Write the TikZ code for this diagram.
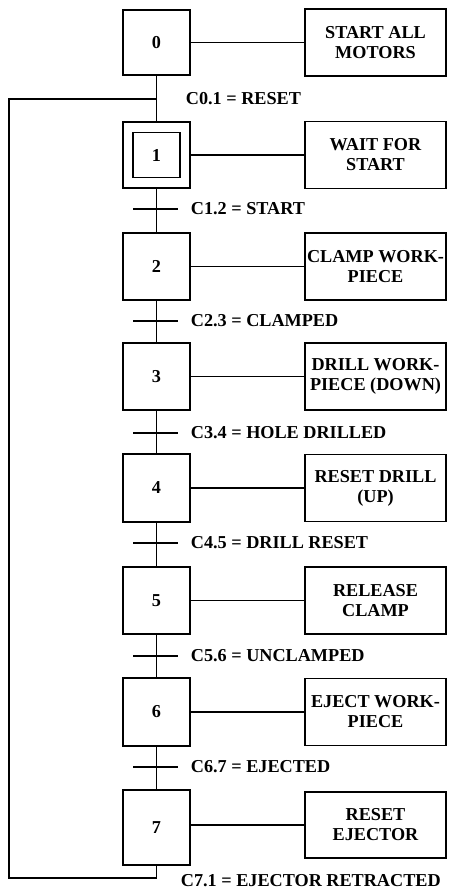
\documentclass[tikz,border=0pt]{standalone}
\usepackage{fontspec}
\setmainfont{Liberation Serif}
\begin{document}
\begin{tikzpicture}[x=1pt,y=-1pt,
  line width=1.8pt,
  every node/.style={font=\fontsize{18.2}{20}\selectfont\bfseries},
  stepbox/.style={draw, minimum width=67pt, minimum height=66pt, inner sep=0pt},
  actbox/.style={draw, minimum width=141pt, minimum height=67pt, inner sep=0pt, align=center},
  lbl/.style={anchor=west, inner sep=0pt},
  tick/.style={line width=1.5pt}]
\useasboundingbox (0,0) rectangle (448,891);

% steps
\node[stepbox, minimum height=65pt] (s0) at (156.5,42.5) {0};
\node[stepbox] (s1) at (156.5,155) {};
\node[draw, minimum width=47pt, minimum height=45pt, inner sep=0pt] (s1i) at (156.5,155) {1};
\node[stepbox, minimum height=67pt] (s2) at (156.5,266.5) {2};
\node[stepbox, minimum height=67pt] (s3) at (156.5,376.5) {3};
\node[stepbox, minimum height=68pt] (s4) at (156.5,488) {4};
\node[stepbox, minimum height=67pt] (s5) at (156.5,600.5) {5};
\node[stepbox, minimum height=68pt] (s6) at (156.5,712) {6};
\node[stepbox, minimum height=75pt] (s7) at (156.5,827.5) {7};

% actions
\node[actbox] (a0) at (375.5,42.5) {START ALL\\MOTORS};
\node[actbox] (a1) at (375.5,155) {WAIT FOR\\START};
\node[actbox] (a2) at (375.5,266.5) {CLAMP WORK-\\PIECE};
\node[actbox] (a3) at (375.5,376.5) {DRILL WORK-\\PIECE (DOWN)};
\node[actbox] (a4) at (375.5,488) {RESET DRILL\\(UP)};
\node[actbox] (a5) at (375.5,600.5) {RELEASE\\CLAMP};
\node[actbox] (a6) at (375.5,712) {EJECT WORK-\\PIECE};
\node[actbox, minimum height=66pt] (a7) at (375.5,825) {RESET\\EJECTOR};

\foreach \i in {0,...,6} { \draw (s\i) -- (a\i); }
\draw (s7.east |- a7.west) -- (a7.west);

% vertical links
\coordinate (j) at (156.5,99);
\draw (s0) -- (s1);
\foreach \i/\n in {1/2,2/3,3/4,4/5,5/6,6/7} { \draw (s\i) -- (s\n); }

% transition ticks
\foreach \y/\n in {209/t12,321/t23,433/t34,543/t45,656/t56,767/t67} {
  \coordinate (\n l) at (133,\y);
  \coordinate (\n r) at (178,\y);
  \draw[tick] (\n l) -- (\n r);
}

% feedback loop
\coordinate (b1) at (156.5,878);
\coordinate (b2) at (9,878);
\coordinate (b3) at (9,99);
\draw (s7.south) -- (b1) -- (b2) -- (b3) -- (j);

% labels
\node[lbl] (c01) at (185,99) {C0.1 = RESET};
\node[lbl] (c12) at (190,209) {C1.2 = START};
\node[lbl] (c23) at (190,321) {C2.3 = CLAMPED};
\node[lbl] (c34) at (190,433) {C3.4 = HOLE DRILLED};
\node[lbl] (c45) at (190,543) {C4.5 = DRILL RESET};
\node[lbl] (c56) at (190,656) {C5.6 = UNCLAMPED};
\node[lbl] (c67) at (190,767) {C6.7 = EJECTED};
\node[lbl] (c71) at (180,881) {C7.1 = EJECTOR RETRACTED};
\end{tikzpicture}
\end{document}
